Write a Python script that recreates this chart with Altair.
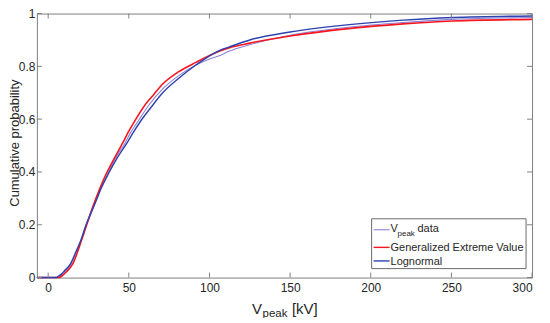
import altair as alt
import pandas as pd

# ---------------- data ----------------
v_data = [-7, 5, 7, 10, 14, 17, 20.4, 23.6, 29, 36, 41.5, 47.8, 51, 55.5, 62, 71, 81, 91.6, 100, 106, 112, 125, 150, 186, 220, 251, 300]
p_data = [0, 0, 0.005, 0.02, 0.05, 0.09, 0.14, 0.2, 0.29, 0.38, 0.45, 0.511, 0.548, 0.59, 0.65, 0.715, 0.765, 0.805, 0.828, 0.84, 0.857, 0.882, 0.918, 0.948, 0.966, 0.978, 0.985]

v_gev = [-7, 7, 8.3, 11, 15.4, 20.6, 23.7, 29, 35, 40, 46.3, 49.4, 53.5, 60.7, 65, 71, 81, 91.6, 106, 112, 125, 150, 186, 220, 251, 300]
p_gev = [0, 0, 0.005, 0.02, 0.054, 0.14, 0.196, 0.29, 0.38, 0.44, 0.511, 0.548, 0.591, 0.659, 0.69, 0.733, 0.78, 0.815, 0.857, 0.87, 0.888, 0.915, 0.943, 0.961, 0.972, 0.978]

v_logn = [-7, 5, 6.2, 8, 10, 14, 17, 20.2, 23.5, 27, 30, 33, 37.5, 43, 49.4, 52.5, 57.6, 63.8, 71, 81, 91.6, 106, 112, 125, 150, 190, 220, 251, 300]
p_logn = [0, 0, 0.005, 0.012, 0.025, 0.054, 0.095, 0.14, 0.2, 0.25, 0.295, 0.34, 0.395, 0.455, 0.515, 0.547, 0.595, 0.645, 0.70, 0.755, 0.805, 0.86, 0.873, 0.90, 0.93, 0.96, 0.975, 0.985, 0.991]

x_ticks = [0, 50, 100, 150, 200, 250, 300]
y_ticks = [0, 0.2, 0.4, 0.6, 0.8, 1]

series_names = ["V_peak data", "Generalized Extreme Value", "Lognormal"]
series_colors = ["#8c80d8", "#f5161e", "#2c42ae"]

# ---------------- layout constants ----------------
W, H = 497, 265
FONT = "Liberation Sans"
TXT = "#262626"
AX = "#7f7f7f"

df_data = pd.DataFrame({"v": v_data, "p": p_data})
df_gev = pd.DataFrame({"v": v_gev, "p": p_gev})
df_logn = pd.DataFrame({"v": v_logn, "p": p_logn})
df_xt = pd.DataFrame({"v": x_ticks})
df_yt = pd.DataFrame({"p": y_ticks})
one = pd.DataFrame({"a": [0]})

xscale = alt.Scale(domain=[-7, 300], nice=False, zero=False)
yscale = alt.Scale(domain=[0, 1], nice=False)

xaxis = alt.Axis(values=x_ticks, ticks=False, domain=False, grid=False,
                 labelPadding=5, labelFontSize=12, labelFont=FONT,
                 labelColor=TXT, title=None)
yaxis = alt.Axis(values=y_ticks, format="~g", ticks=False, domain=False, grid=False,
                 labelPadding=2, labelFontSize=12, labelFont=FONT, labelColor=TXT,
                 title="Cumulative probability", titleFontSize=13, titleFont=FONT,
                 titleFontWeight="normal", titleColor=TXT, titleX=-22.5, titleY=129.5,
                 titleAngle=270, titleBaseline="middle", titleAlign="center")

X = alt.X("v:Q", scale=xscale, axis=xaxis)
Y = alt.Y("p:Q", scale=yscale, axis=yaxis)


def line(df, color, sw):
    return alt.Chart(df).mark_line(color=color, strokeWidth=sw, interpolate="monotone").encode(x=X, y=Y)


l_data = line(df_data, series_colors[0], 1.1)
l_gev = line(df_gev, series_colors[1], 1.6)
l_logn = line(df_logn, series_colors[2], 1.4)

# inward ticks on all four sides
tick_len = 5
xt_bottom = alt.Chart(df_xt).mark_rule(color=AX, strokeWidth=1).encode(
    x=X, y=alt.value(H), y2=alt.value(H - tick_len))
xt_top = alt.Chart(df_xt).mark_rule(color=AX, strokeWidth=1).encode(
    x=X, y=alt.value(0), y2=alt.value(tick_len))
yt_left = alt.Chart(df_yt).mark_rule(color=AX, strokeWidth=1).encode(
    y=Y, x=alt.value(0), x2=alt.value(tick_len))
yt_right = alt.Chart(df_yt).mark_rule(color=AX, strokeWidth=1).encode(
    y=Y, x=alt.value(W), x2=alt.value(W - tick_len))


def text(t, x, y, size, color=TXT):
    return alt.Chart(one).mark_text(text=t, fontSize=size, font=FONT, color=color,
                                    align="left", baseline="alphabetic").encode(
        x=alt.value(x), y=alt.value(y))


# x-axis title with subscript
xt1 = text("V", 216, 301.5, 15)
xt2 = text("peak", 226.5, 304.5, 11.5)
xt3 = text("[kV]", 256, 301.5, 15)

# legend
box = alt.Chart(one).mark_rect(fill="white", stroke="#6a6a6a", strokeWidth=1).encode(
    x=alt.value(336), x2=alt.value(491), y=alt.value(206), y2=alt.value(256))
row_y = [217, 234.7, 248.3]
leg_lines = []
for i, c in enumerate(series_colors):
    leg_lines.append(alt.Chart(one).mark_rule(color=c, strokeWidth=1.4 if i else 1.1).encode(
        x=alt.value(338), x2=alt.value(354), y=alt.value(row_y[i])))
lt1a = text("V", 355, 219.5, 11)
lt1b = text("peak", 362, 223, 8)
lt1c = text("data", 382, 219.5, 11)
lt2 = text("Generalized Extreme Value", 355, 238.7, 11)
lt3 = text("Lognormal", 355, 252.7, 11)

chart = alt.layer(
    l_data, l_gev, l_logn,
    xt_bottom, xt_top, yt_left, yt_right,
    xt1, xt2, xt3,
    box, *leg_lines, lt1a, lt1b, lt1c, lt2, lt3,
).properties(
    width=W, height=H,
    autosize=alt.AutoSizeParams(type="none"),
    padding={"left": 29, "top": 5, "right": 10, "bottom": 40},
).configure_view(stroke=AX, strokeWidth=1)

chart.save("out.html", embed_options={"renderer": "svg", "actions": False})
